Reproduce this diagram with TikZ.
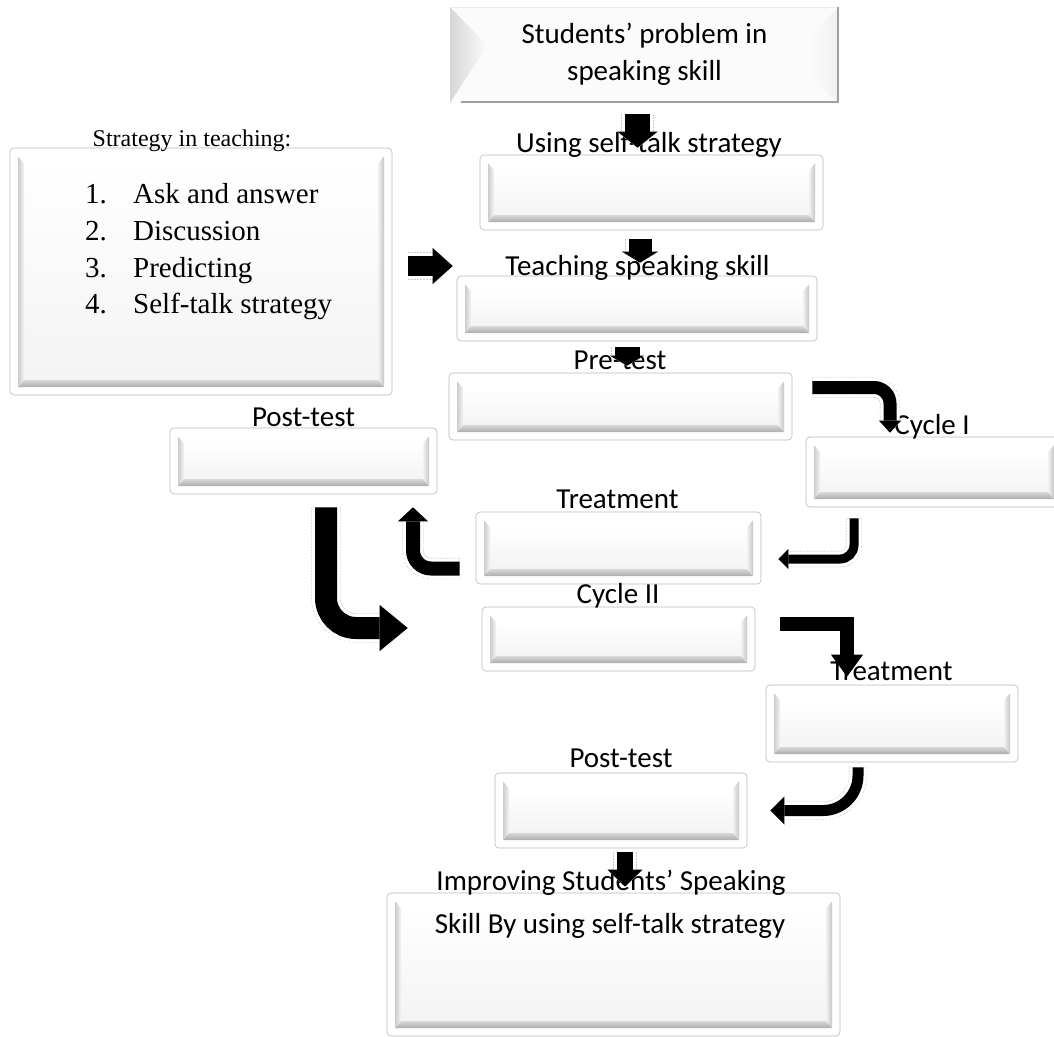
\documentclass[tikz,border=0pt]{standalone}
\usepackage{fontspec}
\setmainfont{Carlito}
\newfontfamily\tnr{Liberation Serif}
\usetikzlibrary{arrows.meta,calc}

\newcommand\bevelpic{%
 \coordinate (bvA) at ($(path picture bounding box.south west)+(8pt,8pt)$);
 \coordinate (bvC) at ($(path picture bounding box.north east)+(-8pt,-8pt)$);
 \coordinate (bvB) at (bvA -| bvC);
 \coordinate (bvD) at (bvA |- bvC);
 \fill[gray!8,sharp corners] (bvA) rectangle (bvC);
 \shade[top color=white, bottom color=gray!9,sharp corners] ($(bvD)+(6pt,-7pt)$) rectangle ($(bvB)+(-6pt,7pt)$);
 \shade[top color=gray!30, bottom color=gray!65,sharp corners] (bvA) -- (bvB) -- ($(bvB)+(-6pt,7pt)$) -- ($(bvA)+(6pt,7pt)$) -- cycle;
 \shade[left color=gray!40, right color=gray!8,sharp corners] (bvA) -- ($(bvA)+(6pt,7pt)$) -- ($(bvD)+(6pt,-7pt)$) -- (bvD) -- cycle;
 \shade[right color=gray!45, left color=gray!10,sharp corners] (bvB) -- (bvC) -- ($(bvC)+(-6pt,-7pt)$) -- ($(bvB)+(-6pt,7pt)$) -- cycle;
 \fill[white,sharp corners] (bvD) -- (bvC) -- ($(bvC)+(-6pt,-7pt)$) -- ($(bvD)+(6pt,-7pt)$) -- cycle;
}
\newcommand\toppic{%
 \coordinate (tbA) at (path picture bounding box.south west);
 \coordinate (tbC) at (path picture bounding box.north east);
 \coordinate (tbB) at (tbA -| tbC);
 \coordinate (tbD) at (tbA |- tbC);
 \fill[gray!3] (tbA) rectangle (tbC);
 \shade[left color=gray!32, right color=gray!3] (tbD) -- ($(tbD)!0.4!(tbA)+(37pt,0pt)$) -- (tbA) -- cycle;
 \shade[right color=gray!12, left color=gray!3] (tbC) -- ($(tbC)+(-29pt,-28pt)$) -- ($(tbB)+(-29pt,25pt)$) -- (tbB) -- cycle;
 \draw[gray!15, line width=0.8pt] (tbD) -- (tbC);
 \draw[gray!75, line width=2pt] ($(tbA)+(11pt,1pt)$) -- ($(tbB)+(-1pt,1pt)$) -- ($(tbC)+(-1pt,0pt)$);
}

\begin{document}
\begin{tikzpicture}[x=1pt,y=-1pt,
  bbox/.style={draw=gray!55, line width=0.6pt, rounded corners=4pt, fill=white, inner sep=0pt, path picture={\bevelpic}},
  topbox/.style={fill=white, inner sep=0pt, path picture={\toppic}},
  lbl/.style={font=\fontsize{29}{35}\selectfont, inner sep=0pt, anchor=base},
  tlbl/.style={font=\tnr\fontsize{29}{35}\selectfont, inner sep=0pt, anchor=base west},
  halo/.style={preaction={draw=gray!40, line width=#1+1.2pt, dash pattern=on 1.5pt off 1.5pt}, preaction={draw=white, line width=#1}},
]
\useasboundingbox (0,0) rectangle (1054,1036);
\fill[white] (0,0) rectangle (1054,1036);

% boxes
\node[topbox, minimum width=389pt, minimum height=96pt] (top) at (644.5,55) {};
\node[bbox, minimum width=382pt, minimum height=247pt] (strat) at (201,271.5) {};
\node[bbox, minimum width=343pt, minimum height=75pt] (using) at (651.5,192.5) {};
\node[bbox, minimum width=360pt, minimum height=65pt] (teach) at (637,308.5) {};
\node[bbox, minimum width=343pt, minimum height=67pt] (pre) at (620.5,406.5) {};
\node[bbox, minimum width=256pt, minimum height=70pt] (cyc1) at (934,472) {};
\node[bbox, minimum width=285pt, minimum height=72pt] (treat1) at (618.5,548) {};
\node[bbox, minimum width=267pt, minimum height=66pt] (post1) at (303.5,461) {};
\node[bbox, minimum width=273pt, minimum height=64pt] (cyc2) at (618.5,639) {};
\node[bbox, minimum width=252pt, minimum height=77pt] (treat2) at (892,723.5) {};
\node[bbox, minimum width=252pt, minimum height=75pt] (post2) at (621,810.5) {};
\node[bbox, minimum width=453pt, minimum height=143pt] (final) at (613.5,964.5) {};

% texts
\node[lbl] (ttop1) at (644.5,43) {Students’ problem in};
\node[lbl] (ttop2) at (644.5,80) {speaking skill};
\node[lbl] (tusing) at (649,152) {Using self-talk strategy};
\node[lbl] (tteach) at (637.5,275) {Teaching speaking skill};
\node[lbl] (tpre) at (620,369) {Pre-test};
\node[lbl] (tcyc1) at (932,434) {Cycle I};
\node[lbl] (ttr1) at (617.5,508) {Treatment};
\node[lbl] (tpost1) at (303.5,426) {Post-test};
\node[lbl] (tcyc2) at (618,603) {Cycle II};
\node[lbl] (ttr2) at (891.5,680) {Treatment};
\node[lbl] (tpost2) at (621,767) {Post-test};
\node[lbl] (tfin1) at (611,890) {Improving Students’ Speaking};
\node[lbl] (tfin2) at (610,933) {Skill By using self-talk strategy};
\node[lbl, font=\tnr\fontsize{24}{30}\selectfont] (tstrat) at (192,146) {Strategy in teaching:};
\node[tlbl] (l1) at (85,203) {\makebox[48pt][l]{1.}Ask and answer};
\node[tlbl] (l2) at (85,240) {\makebox[48pt][l]{2.}Discussion};
\node[tlbl] (l3) at (85,277) {\makebox[48pt][l]{3.}Predicting};
\node[tlbl] (l4) at (85,313) {\makebox[48pt][l]{4.}Self-talk strategy};

% arrows
\draw[halo=31pt, line width=25pt, -{Triangle[width=40pt,length=16pt,line width=0pt]}]
  ([xshift=-7pt,yshift=-11pt]top.south) -- ([xshift=-14pt,yshift=7pt]using.north);
\draw[halo=29pt, line width=23pt, -{Triangle[width=36pt,length=11pt,line width=0pt]}]
  ([xshift=-11.5pt,yshift=-9pt]using.south) -- ([xshift=3pt,yshift=13pt]teach.north);
\draw[halo=31pt, line width=25pt, -{Triangle[width=34pt,length=10pt,line width=0pt]}]
  ([xshift=-10pt,yshift=-6pt]teach.south) -- ([xshift=6.5pt,yshift=7pt]pre.north);
\draw[halo=26pt, line width=20pt, -{Triangle[width=36pt,length=20pt,line width=0pt]}]
  ([xshift=16pt,yshift=5.5pt]strat.east) -- ([xshift=-4pt,yshift=42.5pt]teach.west);
\draw[halo=19pt, line width=13pt, rounded corners=16pt, -{Triangle[width=22pt,length=12pt,line width=0pt]}]
  ([xshift=20pt,yshift=19pt]pre.east) -| ([xshift=-44pt,yshift=4pt]cyc1.north);
\draw[halo=15pt, line width=9pt, rounded corners=14pt, -{Triangle[width=20pt,length=10pt,line width=0pt]}]
  ([xshift=-80pt,yshift=-11pt]cyc1.south) |- ([xshift=17pt,yshift=-11pt]treat1.east);
\draw[halo=20pt, line width=14pt, rounded corners=18pt, -{Triangle[width=30pt,length=14pt,line width=0pt]}]
  ([xshift=-16pt,yshift=-20.5pt]treat1.west) -| ([xshift=109.5pt,yshift=-13pt]post1.south);
\draw[halo=28pt, line width=22pt, rounded corners=30pt, -{Triangle[width=46pt,length=28pt,line width=0pt]}]
  ([xshift=22.5pt,yshift=-13pt]post1.south) |- ([xshift=-74pt,yshift=11pt]cyc2.west);
\draw[line width=14pt, -{Triangle[width=32pt,length=22pt,line width=0pt]}]
  ([xshift=25pt,yshift=15.5pt]cyc2.east) -| ([xshift=-45pt,yshift=8pt]treat2.north);
\draw[halo=17pt, line width=11pt, rounded corners=35pt, -{Triangle[width=28pt,length=14pt,line width=0pt]}]
  ([xshift=-34pt,yshift=-5pt]treat2.south) |- ([xshift=23pt]post2.east);
\draw[halo=22pt, line width=16pt, -{Triangle[width=35pt,length=17pt,line width=0pt]}]
  ([xshift=4pt,yshift=-4pt]post2.south) -- ([xshift=11.5pt,yshift=6pt]final.north);
\end{tikzpicture}
\end{document}
